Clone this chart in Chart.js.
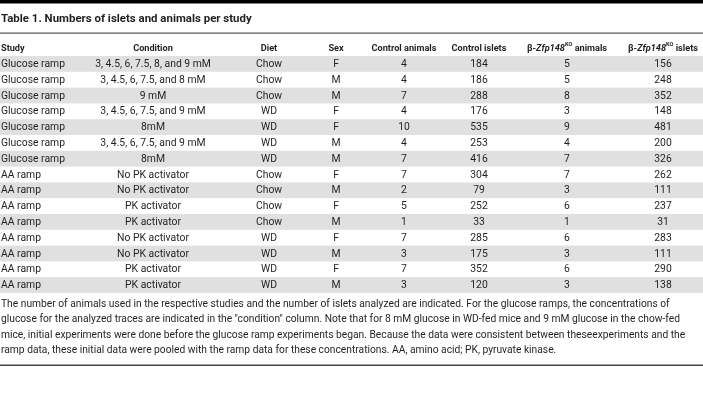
<!DOCTYPE html>
<html><head><meta charset="utf-8">
<script src="https://cdn.jsdelivr.net/npm/chart.js@4.4.0/dist/chart.umd.min.js"></script>
<style>html,body{margin:0;padding:0;background:#fff;overflow:hidden}#wrap{width:703px;height:419px}</style>
</head><body><div id="wrap"><canvas id="c" width="703" height="419"></canvas></div>
<script>
// ---------- DATA ----------
const tableTitle = "Table 1. Numbers of islets and animals per study";
const headers = ["Study", "Condition", "Diet", "Sex", "Control animals", "Control islets", "β-Zfp148KO animals", "β-Zfp148KO islets"];
const study = ["Glucose ramp","Glucose ramp","Glucose ramp","Glucose ramp","Glucose ramp","Glucose ramp","Glucose ramp",
  "AA ramp","AA ramp","AA ramp","AA ramp","AA ramp","AA ramp","AA ramp","AA ramp"];
const condition = ["3, 4.5, 6, 7.5, 8, and 9 mM","3, 4.5, 6, 7.5, and 8 mM","9 mM","3, 4.5, 6, 7.5, and 9 mM","8mM",
  "3, 4.5, 6, 7.5, and 9 mM","8mM","No PK activator","No PK activator","PK activator","PK activator",
  "No PK activator","No PK activator","PK activator","PK activator"];
const diet = ["Chow","Chow","Chow","WD","WD","WD","WD","Chow","Chow","Chow","Chow","WD","WD","WD","WD"];
const sex = ["F","M","M","F","F","M","M","F","M","F","M","F","M","F","M"];
const controlAnimals = [4,4,7,4,10,4,7,7,2,5,1,7,3,7,3];
const controlIslets = [184,186,288,176,535,253,416,304,79,252,33,285,175,352,120];
const koAnimals = [5,5,8,3,9,4,7,7,3,6,1,6,3,6,3];
const koIslets = [156,248,352,148,481,200,326,262,111,237,31,283,111,290,138];
const footnote = [
  "The number of animals used in the respective studies and the number of islets analyzed are indicated. For the glucose ramps, the concentrations of",
  "glucose for the analyzed traces are indicated in the \"condition\" column. Note that for 8 mM glucose in WD-fed mice and 9 mM glucose in the chow-fed",
  "mice, initial experiments were done before the glucose ramp experiments began. Because the data were consistent between theseexperiments and the",
  "ramp data, these initial data were pooled with the ramp data for these concentrations. AA, amino acid; PK, pyruvate kinase."
];

// ---------- LAYOUT / STYLE ----------
const columns = [study, condition, diet, sex, controlAnimals, controlIslets, koAnimals, koIslets];
const colX = [1, 153, 269, 336, 404, 479, 567, 663];
const colAlign = ["left","center","center","center","center","center","center","center"];
const FAMILY = "Roboto, 'Liberation Sans', sans-serif";
const TEXT = "#231f20";
const STRIPE = "#dfe0e2";

const mctx = document.createElement('canvas').getContext('2d');
function fit(text, target, weight) {
  mctx.font = weight + " 100px " + FAMILY;
  return 100 * target / mctx.measureText(text).width;
}
const bodySize = fit("Glucose ramp", 64, "normal");
const headSize = fit("Control animals", 65, "bold");
const titleSize = fit(tableTitle, 251, "bold");
const noteSize = fit(footnote[1], 680, "normal");

function headerSegments(h) {
  const m = h.match(/^β-Zfp148KO (.*)$/);
  if (!m) return [{t: h, f: "bold", sup: false}];
  return [{t: "β-", f: "bold"}, {t: "Zfp148", f: "italic bold"}, {t: "KO", f: "bold", sup: true}, {t: " " + m[1], f: "bold"}];
}

const tablePlugin = {
  id: 'tablePlugin',
  beforeDatasetsDraw(chart) {
    const {ctx, chartArea, scales: {y}} = chart;
    const W = chart.width;
    ctx.save();
    // stripes
    ctx.fillStyle = STRIPE;
    for (let i = 0; i < study.length; i += 2) {
      const t = y.getPixelForValue(i - 0.5), b = y.getPixelForValue(i + 0.5);
      ctx.fillRect(chartArea.left, t, chartArea.right - chartArea.left, b - t);
    }
    // top thick rule
    ctx.fillStyle = "#000";
    ctx.fillRect(0, 0, W, 3.5);
    // title
    ctx.fillStyle = TEXT;
    ctx.font = "bold " + titleSize + "px " + FAMILY;
    ctx.textBaseline = "middle";
    ctx.textAlign = "left";
    ctx.fillText(tableTitle, 1, 19);
    // rule under title
    ctx.fillStyle = "#555";
    ctx.fillRect(0, 32.5, W, 1.2);
    // header
    headers.forEach((h, j) => {
      const segs = headerSegments(h);
      let total = 0;
      segs.forEach(s => {
        const sz = s.sup ? headSize * 0.62 : headSize;
        ctx.font = s.f + " " + sz + "px " + FAMILY;
        s.w = ctx.measureText(s.t).width; s.sz = sz; total += s.w;
      });
      let x = colAlign[j] === "left" ? colX[j] : colX[j] - total / 2;
      ctx.textAlign = "left";
      ctx.fillStyle = TEXT;
      segs.forEach(s => {
        ctx.font = s.f + " " + s.sz + "px " + FAMILY;
        ctx.fillText(s.t, x, s.sup ? 45 : 48.5);
        x += s.w;
      });
    });
    // footnote
    ctx.font = noteSize + "px " + FAMILY;
    ctx.fillStyle = TEXT;
    footnote.forEach((l, k) => ctx.fillText(l, 1, 304 + k * 15.6));
    // bottom rule
    ctx.fillStyle = "#444";
    ctx.fillRect(0, 364.5, W, 1.5);
    ctx.restore();
  },
  afterDatasetsDraw(chart) {
    const {ctx} = chart;
    ctx.save();
    ctx.fillStyle = TEXT;
    ctx.font = bodySize + "px " + FAMILY;
    ctx.textBaseline = "middle";
    chart.data.datasets.forEach((ds, j) => {
      const meta = chart.getDatasetMeta(j);
      ctx.textAlign = colAlign[j];
      meta.data.forEach((el, i) => {
        ctx.fillText(String(columns[j][i]), el.x, el.y + 0.5);
      });
    });
    ctx.restore();
  }
};

new Chart(document.getElementById('c'), {
  type: 'scatter',
  data: {
    datasets: columns.map((col, j) => ({
      label: headers[j],
      data: col.map((v, i) => ({x: colX[j], y: i})),
      pointRadius: 0, pointHoverRadius: 0
    }))
  },
  options: {
    responsive: false, animation: false, devicePixelRatio: 1,
    layout: {padding: {top: 56, bottom: 126, left: 0, right: 0}},
    plugins: {legend: {display: false}, tooltip: {enabled: false}, title: {display: false}},
    events: [],
    scales: {
      x: {type: 'linear', min: 0, max: 703, display: false},
      y: {type: 'linear', min: -0.5, max: 14.5, reverse: true, display: false}
    }
  },
  plugins: [tablePlugin]
});
</script>
</body></html>
